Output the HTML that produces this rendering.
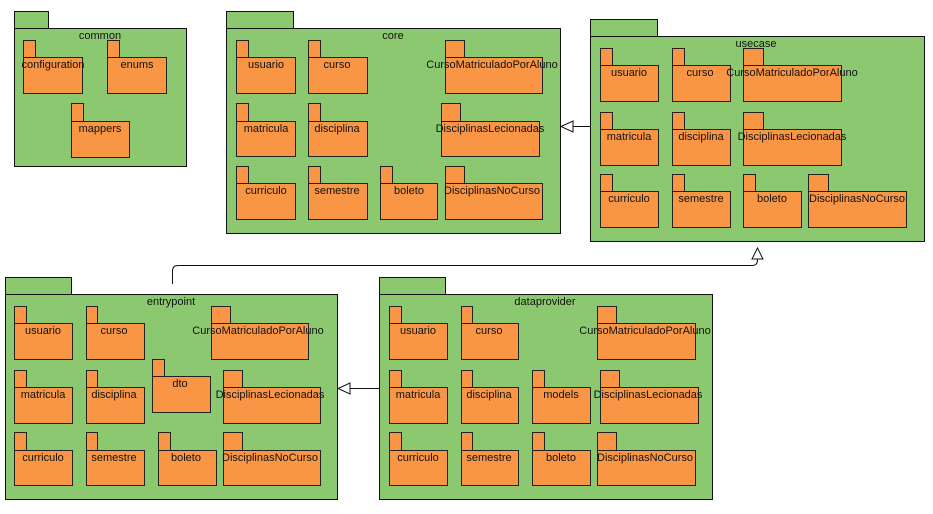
<!DOCTYPE html>
<html><head><meta charset="utf-8"><style>
html,body{margin:0;padding:0;background:#fff;width:933px;height:514px;overflow:hidden}
svg text{font-family:"Liberation Sans",sans-serif;font-size:11px;fill:#111;text-anchor:middle}
.g{fill:#8cc870;stroke:#111;stroke-width:1}
.o{fill:#f99645;stroke:#222;stroke-width:1}
</style></head><body>
<svg width="933" height="514" viewBox="0 0 933 514" xmlns="http://www.w3.org/2000/svg">
<!-- common -->
<rect class="g" x="14.5" y="11.5" width="34" height="17"/>
<rect class="g" x="14.5" y="28.5" width="172" height="138"/>
<text x="100" y="39">common</text>
<rect class="o" x="23.5" y="40.5" width="12" height="17"/><rect class="o" x="23.5" y="57.5" width="59" height="36"/><text x="53" y="68">configuration</text>
<rect class="o" x="107.5" y="40.5" width="12" height="17"/><rect class="o" x="107.5" y="57.5" width="59" height="36"/><text x="137" y="68">enums</text>
<rect class="o" x="71.5" y="103.5" width="12" height="18"/><rect class="o" x="71.5" y="121.5" width="58" height="36"/><text x="100" y="132">mappers</text>

<!-- core -->
<rect class="g" x="226.5" y="11.5" width="67" height="17"/>
<rect class="g" x="226.5" y="28.5" width="334" height="205"/>
<text x="393" y="39">core</text>
<rect class="o" x="236.5" y="40.5" width="12" height="17"/><rect class="o" x="236.5" y="57.5" width="59" height="36"/><text x="266" y="68">usuario</text>
<rect class="o" x="308.5" y="40.5" width="12" height="17"/><rect class="o" x="308.5" y="57.5" width="59" height="36"/><text x="337" y="68">curso</text>
<rect class="o" x="445.5" y="40.5" width="19" height="17"/><rect class="o" x="445.5" y="57.5" width="97" height="36"/><text x="492" y="68">CursoMatriculadoPorAluno</text>
<rect class="o" x="236.5" y="103.5" width="12" height="18"/><rect class="o" x="236.5" y="121.5" width="59" height="35"/><text x="266" y="132">matricula</text>
<rect class="o" x="308.5" y="103.5" width="12" height="18"/><rect class="o" x="308.5" y="121.5" width="59" height="35"/><text x="337" y="132">disciplina</text>
<rect class="o" x="441.5" y="103.5" width="19" height="18"/><rect class="o" x="441.5" y="121.5" width="98" height="35"/><text x="490" y="132">DisciplinasLecionadas</text>
<rect class="o" x="236.5" y="166.5" width="12" height="17"/><rect class="o" x="236.5" y="183.5" width="59" height="36"/><text x="266" y="194">curriculo</text>
<rect class="o" x="308.5" y="166.5" width="12" height="17"/><rect class="o" x="308.5" y="183.5" width="59" height="36"/><text x="337" y="194">semestre</text>
<rect class="o" x="380.5" y="166.5" width="12" height="17"/><rect class="o" x="380.5" y="183.5" width="57" height="36"/><text x="409" y="194">boleto</text>
<rect class="o" x="445.5" y="166.5" width="19" height="17"/><rect class="o" x="445.5" y="183.5" width="97" height="36"/><text x="492" y="194">DisciplinasNoCurso</text>

<!-- usecase -->
<rect class="g" x="590.5" y="19.5" width="67" height="17"/>
<rect class="g" x="590.5" y="36.5" width="334" height="205"/>
<text x="756" y="47">usecase</text>
<rect class="o" x="600.5" y="48.5" width="12" height="17"/><rect class="o" x="600.5" y="65.5" width="58" height="36"/><text x="629" y="76">usuario</text>
<rect class="o" x="672.5" y="48.5" width="12" height="17"/><rect class="o" x="672.5" y="65.5" width="58" height="36"/><text x="700" y="76">curso</text>
<rect class="o" x="743.5" y="48.5" width="20" height="17"/><rect class="o" x="743.5" y="65.5" width="98" height="36"/><text x="792" y="76">CursoMatriculadoPorAluno</text>
<rect class="o" x="600.5" y="112.5" width="12" height="17"/><rect class="o" x="600.5" y="129.5" width="58" height="36"/><text x="629" y="140">matricula</text>
<rect class="o" x="672.5" y="112.5" width="12" height="17"/><rect class="o" x="672.5" y="129.5" width="58" height="36"/><text x="701" y="140">disciplina</text>
<rect class="o" x="743.5" y="112.5" width="20" height="17"/><rect class="o" x="743.5" y="129.5" width="98" height="36"/><text x="792" y="140">DisciplinasLecionadas</text>
<rect class="o" x="600.5" y="174.5" width="12" height="17"/><rect class="o" x="600.5" y="191.5" width="58" height="36"/><text x="629" y="202">curriculo</text>
<rect class="o" x="672.5" y="174.5" width="12" height="17"/><rect class="o" x="672.5" y="191.5" width="58" height="36"/><text x="701" y="202">semestre</text>
<rect class="o" x="743.5" y="174.5" width="12" height="17"/><rect class="o" x="743.5" y="191.5" width="58" height="36"/><text x="772" y="202">boleto</text>
<rect class="o" x="808.5" y="174.5" width="20" height="17"/><rect class="o" x="808.5" y="191.5" width="98" height="36"/><text x="857" y="202">DisciplinasNoCurso</text>

<!-- arrow usecase -> core -->
<line x1="590" y1="126.5" x2="573" y2="126.5" stroke="#111"/>
<polygon points="561,126.5 573,121 573,132" fill="#fff" stroke="#111"/>

<!-- entrypoint -->
<rect class="g" x="5.5" y="277.5" width="66" height="17"/>
<rect class="g" x="5.5" y="294.5" width="332" height="205"/>
<text x="171" y="305">entrypoint</text>
<rect class="o" x="14.5" y="306.5" width="12" height="17"/><rect class="o" x="14.5" y="323.5" width="58" height="36"/><text x="43" y="334">usuario</text>
<rect class="o" x="86.5" y="306.5" width="11" height="17"/><rect class="o" x="86.5" y="323.5" width="58" height="36"/><text x="114" y="334">curso</text>
<rect class="o" x="211.5" y="306.5" width="19" height="17"/><rect class="o" x="211.5" y="323.5" width="97" height="36"/><text x="258" y="334">CursoMatriculadoPorAluno</text>
<rect class="o" x="14.5" y="370.5" width="12" height="17"/><rect class="o" x="14.5" y="387.5" width="58" height="36"/><text x="43" y="398">matricula</text>
<rect class="o" x="86.5" y="370.5" width="11" height="17"/><rect class="o" x="86.5" y="387.5" width="58" height="36"/><text x="114" y="398">disciplina</text>
<rect class="o" x="152.5" y="359.5" width="12" height="17"/><rect class="o" x="152.5" y="376.5" width="58" height="36"/><text x="180" y="387">dto</text>
<rect class="o" x="223.5" y="370.5" width="19" height="17"/><rect class="o" x="223.5" y="387.5" width="97" height="36"/><text x="270" y="398">DisciplinasLecionadas</text>
<rect class="o" x="14.5" y="432.5" width="12" height="18"/><rect class="o" x="14.5" y="450.5" width="58" height="35"/><text x="43" y="461">curriculo</text>
<rect class="o" x="86.5" y="432.5" width="11" height="18"/><rect class="o" x="86.5" y="450.5" width="58" height="35"/><text x="114" y="461">semestre</text>
<rect class="o" x="158.5" y="432.5" width="12" height="18"/><rect class="o" x="158.5" y="450.5" width="58" height="35"/><text x="186" y="461">boleto</text>
<rect class="o" x="223.5" y="432.5" width="19" height="18"/><rect class="o" x="223.5" y="450.5" width="97" height="35"/><text x="270" y="461">DisciplinasNoCurso</text>

<!-- dataprovider -->
<rect class="g" x="379.5" y="277.5" width="66" height="17"/>
<rect class="g" x="379.5" y="294.5" width="333" height="205"/>
<text x="545" y="305">dataprovider</text>
<rect class="o" x="389.5" y="306.5" width="12" height="17"/><rect class="o" x="389.5" y="323.5" width="58" height="36"/><text x="418" y="334">usuario</text>
<rect class="o" x="461.5" y="306.5" width="11" height="17"/><rect class="o" x="461.5" y="323.5" width="57" height="36"/><text x="489" y="334">curso</text>
<rect class="o" x="597.5" y="306.5" width="19" height="17"/><rect class="o" x="597.5" y="323.5" width="98" height="36"/><text x="645" y="334">CursoMatriculadoPorAluno</text>
<rect class="o" x="389.5" y="370.5" width="12" height="17"/><rect class="o" x="389.5" y="387.5" width="58" height="36"/><text x="418" y="398">matricula</text>
<rect class="o" x="461.5" y="370.5" width="11" height="17"/><rect class="o" x="461.5" y="387.5" width="57" height="36"/><text x="489" y="398">disciplina</text>
<rect class="o" x="532.5" y="370.5" width="12" height="17"/><rect class="o" x="532.5" y="387.5" width="58" height="36"/><text x="561" y="398">models</text>
<rect class="o" x="600.5" y="370.5" width="19" height="17"/><rect class="o" x="600.5" y="387.5" width="98" height="36"/><text x="648" y="398">DisciplinasLecionadas</text>
<rect class="o" x="389.5" y="432.5" width="12" height="18"/><rect class="o" x="389.5" y="450.5" width="58" height="35"/><text x="418" y="461">curriculo</text>
<rect class="o" x="461.5" y="432.5" width="11" height="18"/><rect class="o" x="461.5" y="450.5" width="57" height="35"/><text x="489" y="461">semestre</text>
<rect class="o" x="532.5" y="432.5" width="12" height="18"/><rect class="o" x="532.5" y="450.5" width="58" height="35"/><text x="561" y="461">boleto</text>
<rect class="o" x="597.5" y="432.5" width="19" height="18"/><rect class="o" x="597.5" y="450.5" width="98" height="35"/><text x="645" y="461">DisciplinasNoCurso</text>

<!-- arrow dataprovider -> entrypoint -->
<line x1="379" y1="388.5" x2="350" y2="388.5" stroke="#111"/>
<polygon points="338,388.5 350,383 350,394" fill="#fff" stroke="#111"/>

<!-- entrypoint -> usecase -->
<path d="M172.5,284 V271 Q172.5,265.5 178,265.5 H752 Q757.5,265.5 757.5,260 V259" fill="none" stroke="#111"/>
<polygon points="757.5,248 752,259 763,259" fill="#fff" stroke="#111"/>
</svg>
</body></html>
